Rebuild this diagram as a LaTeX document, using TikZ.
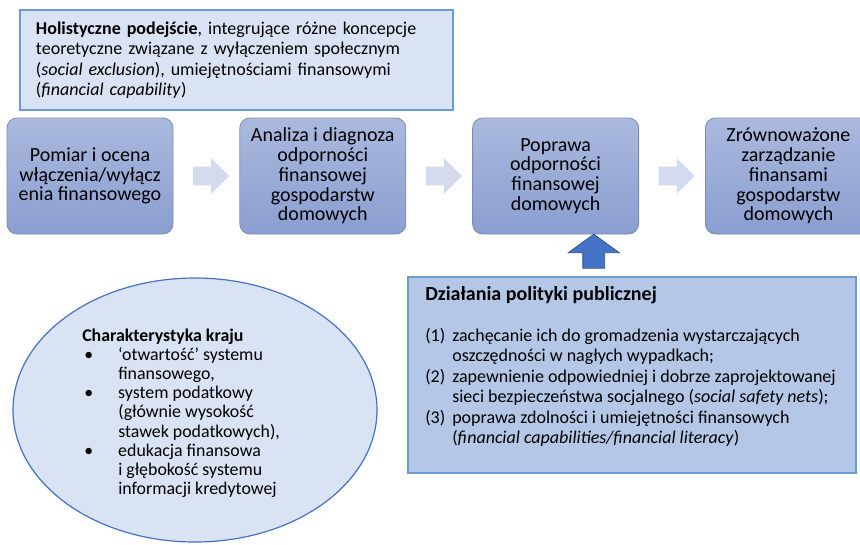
\documentclass[tikz,border=0pt]{standalone}
\usepackage{fontspec}
\setmainfont{Carlito}
\usepackage{tikz}
\usetikzlibrary{positioning,calc,shapes.geometric,shapes.arrows}
\definecolor{rlight}{RGB}{218,227,243}
\definecolor{rframe}{RGB}{108,156,212}
\definecolor{rpolicy}{RGB}{180,199,231}
\definecolor{rtop}{RGB}{170,185,222}
\definecolor{rbottom}{RGB}{138,158,208}
\definecolor{redge}{RGB}{125,140,178}
\definecolor{rchevron}{RGB}{212,219,238}
\definecolor{rdark}{RGB}{68,114,196}
\definecolor{rdarker}{RGB}{47,82,143}

\tikzset{
  stagebox/.style={rounded corners=7.5pt, draw=redge, line width=0.6pt,
    top color=rtop, bottom color=rbottom, minimum width=124.5pt,
    minimum height=87pt, align=center, inner sep=0pt,
    font=\fontsize{15}{14.8}\selectfont},
  chevron/.style={single arrow, fill=rchevron, draw=none, inner xsep=0pt,
    inner ysep=6.75pt, minimum height=27pt, single arrow head extend=6.4pt},
  uparrow/.style={single arrow, fill=rdark, draw=rdarker, line width=0.6pt,
    inner xsep=0pt, inner ysep=7.9pt, minimum height=25.5pt,
    single arrow head extend=10.9pt, single arrow tip angle=108, rotate=90},
  infobox/.style={draw=rframe, line width=1.5pt},
  infotext/.style={inner sep=0pt, anchor=base west, align=left}
}

\begin{document}
\begin{tikzpicture}[x=0.75pt,y=-0.75pt]
\path[use as bounding box, fill=white] (0,0) rectangle (860,544);

% Stages
\node[stagebox] (box1) at (90,176) {Pomiar i ocena\\włączenia/wyłącz\\enia finansowego};
\node[stagebox, right=49.5pt of box1] (box2) {Analiza i diagnoza\\odporności\\finansowej\\gospodarstw\\domowych};
\node[stagebox, right=49.5pt of box2] (box3) {Poprawa\\odporności\\finansowej\\domowych};
\node[stagebox, right=49.5pt of box3] (box4) {Zrównoważone\\zarządzanie\\finansami\\gospodarstw\\domowych};

% Arrows between stages
\node[chevron] (arrow1) at ($(box1.east)!0.5!(box2.west)$) {};
\node[chevron] (arrow2) at ($(box2.east)!0.5!(box3.west)$) {};
\node[chevron] (arrow3) at ($(box3.east)!0.5!(box4.west)$) {};

% Approach
\node[infobox, fill=rlight, text width=300.75pt, inner xsep=12pt,
  minimum height=75pt, align=left, font=\fontsize{13.5}{15.2}\selectfont]
  (approach) at (236.5,60)
  {\textbf{Holistyczne podejście}, integrujące różne koncepcje\\
   teoretyczne związane z wyłączeniem społecznym\\
   (\textit{social exclusion}), umiejętnościami finansowymi\\
   (\textit{financial capability})};

% Public policy
\node[infobox, fill=rpolicy, minimum width=336pt, minimum height=147pt]
  (policy) at (632,375) {};
\node[infotext, font=\fontsize{13.5}{15.4}\selectfont] (policytext)
  at ($(policy.north west)+(18,24)$)
  {\begin{tabular}[t]{@{}p{20.25pt}@{}l@{}}
   \multicolumn{2}{@{}l@{}}{\fontsize{15}{15.4}\selectfont\textbf{Działania polityki publicznej}}\\
   & \\
   (1) & zachęcanie ich do gromadzenia wystarczających\\
       & oszczędności w nagłych wypadkach;\\
   (2) & zapewnienie odpowiedniej i dobrze zaprojektowanej\\
       & sieci bezpieczeństwa socjalnego (\textit{social safety nets});\\
   (3) & poprawa zdolności i umiejętności finansowych\\
       & (\textit{financial capabilities/financial literacy})
   \end{tabular}};
\node[uparrow] (push) at ($(box3.south)!0.5!(policy.north)$) {};

% Country
\node[ellipse, draw=rdark, line width=0.9pt, fill=rlight,
  minimum width=273pt, minimum height=198pt] (country) at (195,410) {};
\node[infotext, font=\fontsize{13.4}{14.4}\selectfont] (countrytext)
  at ($(country.center)+(-113,-69)$)
  {\begin{tabular}[t]{@{}p{27pt}@{}l@{}}
   \multicolumn{2}{@{}l@{}}{\textbf{Charakterystyka kraju}}\\
   \hspace{1.5pt}\textbullet & ‘otwartość’ systemu\\
       & finansowego,\\
   \hspace{1.5pt}\textbullet & system podatkowy\\
       & (głównie wysokość\\
       & stawek podatkowych),\\
   \hspace{1.5pt}\textbullet & edukacja finansowa\\
       & i głębokość systemu\\
       & informacji kredytowej
   \end{tabular}};
\end{tikzpicture}
\end{document}
